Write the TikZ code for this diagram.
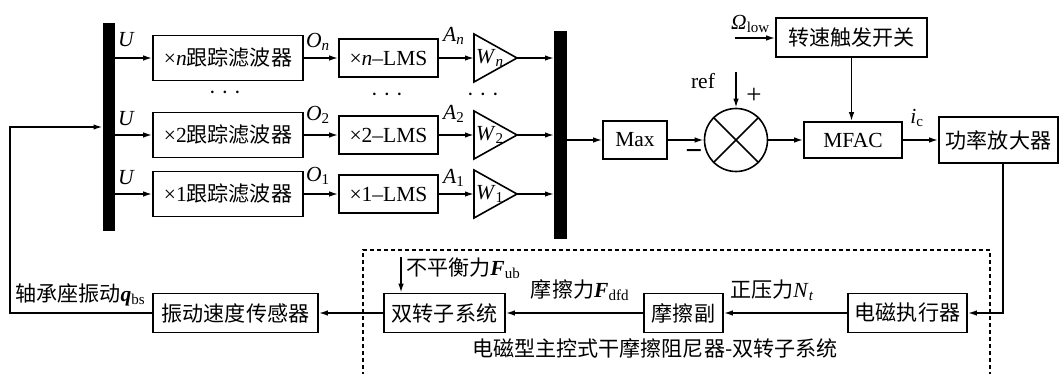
\documentclass[tikz,border=0pt]{standalone}
\usepackage{fontspec}
\setmainfont{Liberation Serif}
\newfontfamily\cjk[Scale=0.98]{Noto Sans CJK SC}
\usetikzlibrary{arrows.meta}
\newcommand\zh[1]{{\cjk #1}}
\newcommand\lo[1]{\textsubscript{#1}}
\newcommand\bvec[1]{\textbf{\textit{#1}}}

\begin{document}
\begin{tikzpicture}[x=1pt,y=-1pt,
  every node/.style={font=\fontsize{21.5}{25}\selectfont, inner sep=0pt},
  box/.style={draw, line width=1.6pt, align=center},
  wire/.style={line width=1.6pt},
  arr/.style={wire, -{Latex[length=9pt,width=5.5pt]}},
  bar/.style={fill=black, minimum width=12.5, minimum height=208}
]
\useasboundingbox (0,0) rectangle (1060,374);

% distribution and collection bars
\node[bar] (barL) at (109,127) {};
\node[bar] (barR) at (560.5,135) {};

% harmonic channels: tracking filter -> LMS -> weight
\foreach \r/\y/\k/\ya/\yo/\yu in {n/58/\textit{n}/36/42/40, 2/135/2/114/115/119, 1/194/1/178/176/178}{
  \node[box, minimum width=150, minimum height=45] (f\r) at (228,\y) {×\k\zh{跟踪滤波器}};
  \node[box, minimum width=99, minimum height=38] (l\r) at (388.5,\y) {×\k–LMS};
  \coordinate (ti\r) at (474,\y);
  \coordinate (to\r) at (517,\y);
  \draw[wire, line join=miter] (474,\y-24) -- (to\r) -- (474,\y+24) -- cycle;
  \node[anchor=west] (w\r) at (476,\y) {\textit{W}\lo{\k}};
  \node[anchor=west] (u\r) at (118,\yu) {\textit{U}};
  \node[anchor=west] (o\r) at (306,\yo) {\textit{O}\lo{\k}};
  \node[anchor=west] (a\r) at (443,\ya) {\textit{A}\lo{\k}};
  \draw[arr] (barL.east |- f\r) -- (f\r.west);
  \draw[arr] (f\r.east) -- (l\r.west);
  \draw[arr] (l\r.east) -- (ti\r);
  \draw[arr] (to\r) -- (to\r -| barR.west);
}
\node (d1) at (225,95) {· · ·};
\node (d2) at (387,97) {· · ·};
\node (d3) at (483,97) {· · ·};

% maximum selection and comparison
\node[box, minimum width=64, minimum height=38] (max) at (635,140) {Max};
\draw[arr] (barR.east |- max) -- (max.west);
\node[draw, circle, line width=1.6pt, minimum size=63] (sum) at (736,140) {};
\draw[wire] (sum.north west) -- (sum.south east);
\draw[wire] (sum.north east) -- (sum.south west);
\draw[arr] (max.east) -- (sum.west);
\node[font=\fontsize{30}{30}\selectfont] (minus) at (694,155) {\textbf{−}};
\node (reflbl) at (703,81) {ref};
\coordinate (refin) at (736,72);
\draw[arr] (refin) -- (sum.north);
\node[font=\fontsize{27}{27}\selectfont] (plus) at (754,96) {+};

% controller
\node[box, minimum width=98, minimum height=36] (mfac) at (853,140) {MFAC};
\draw[arr] (sum.east) -- (mfac.west);
\node[box, minimum width=151, minimum height=39] (sw) at (851.5,37.5) {\zh{转速触发开关}};
\draw[arr] (sw.south) -- (sw.south |- mfac.north);
\coordinate (omin) at (735,38);
\draw[arr] (omin) -- (sw.west |- omin);
\node[anchor=west] (om) at (731,24) {\textit{Ω}\lo{low}};

\node[box, minimum width=119, minimum height=46] (amp) at (998.5,140) {\zh{功率放大器}};
\draw[arr] (mfac.east) -- (amp.west);
\node (ic) at (917,118) {\textit{i}\lo{c}};

% damper and rotor plant
\node[box, minimum width=119, minimum height=39] (act) at (907.5,313) {\zh{电磁执行器}};
\node[box, minimum width=79, minimum height=39] (fric) at (683.5,313) {\zh{摩擦副}};
\node[box, minimum width=121, minimum height=39] (rotor) at (444.5,313) {\zh{双转子系统}};
\node[box, minimum width=165, minimum height=39] (sensor) at (235.5,313) {\zh{振动速度传感器}};

\coordinate (ampd) at (1003,313);
\draw[arr] (amp.south -| ampd) -- (ampd) -- (act.east);
\draw[arr] (act.west) -- (fric.east);
\draw[arr] (fric.west) -- (rotor.east);
\draw[arr] (rotor.west) -- (sensor.east);

\coordinate (ubin) at (401,257);
\draw[arr] (ubin) -- (ubin |- rotor.north);

\node[anchor=west] (ub) at (406,268) {\zh{不平衡力}\bvec{F}\lo{ub}};
\node (dfd) at (580,290) {\zh{摩擦力}\bvec{F}\lo{dfd}};
\node (nt) at (772,290) {\zh{正压力}\textit{N}\lo{\textit{t}}};
\node[anchor=west] (qbs) at (15,295) {\zh{轴承座振动}\bvec{q}\lo{bs}};

% feedback of measured vibration
\coordinate (fbt) at (10,127);
\draw[arr] (sensor.west) -| (fbt) -- (barL.west |- fbt);

% damper subsystem boundary
\draw[wire, dash pattern=on 4pt off 3pt] (363,376) -- (363,250) -- (990,250) -- (990,376);
\node (cap) at (655,348) {\zh{电磁型主控式干摩擦阻尼器-双转子系统}};
\end{tikzpicture}
\end{document}
